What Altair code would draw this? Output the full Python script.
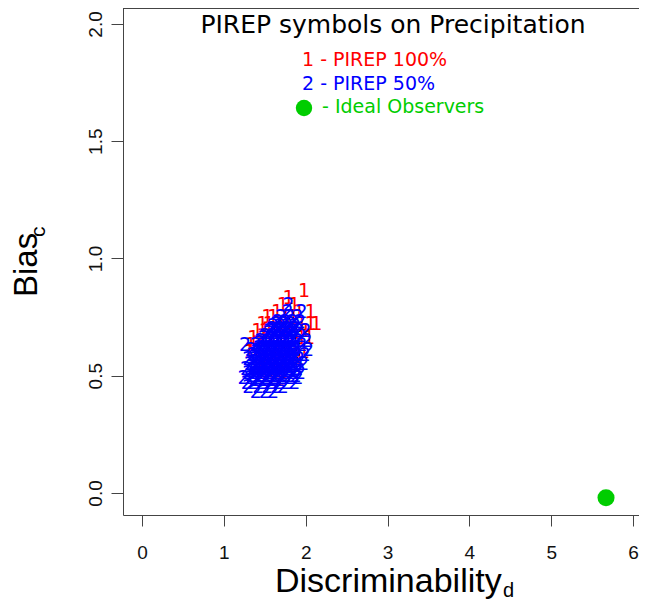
import altair as alt
import pandas as pd

# ---- data ----
# PIREP 100% (symbol "1", red)
red_x = [1.98,
         1.79,
         1.72, 1.86,
         1.65, 1.92, 2.06,
         1.53, 1.60, 1.75, 1.85,
         1.47, 1.55, 1.70, 1.80, 1.95, 2.06, 2.13,
         1.41, 1.50, 1.62, 1.75, 1.88, 2.00,
         1.36, 1.48, 1.58, 1.70, 1.82, 1.95, 2.04,
         1.33, 1.45, 1.55, 1.66, 1.78, 1.90,
         1.31, 1.42, 1.52, 1.63, 1.74, 1.86, 1.98,
         1.40, 1.50, 1.60, 1.70, 1.80, 1.92,
         1.45, 1.55, 1.65, 1.75, 1.87,
         1.50, 1.62, 1.74,
         1.58, 1.68]
red_y = [0.86,
         0.83,
         0.80, 0.80,
         0.77, 0.77, 0.77,
         0.75, 0.75, 0.75, 0.75,
         0.72, 0.72, 0.72, 0.72, 0.72, 0.72, 0.72,
         0.69, 0.69, 0.69, 0.69, 0.69, 0.69,
         0.66, 0.66, 0.66, 0.66, 0.66, 0.66, 0.66,
         0.63, 0.63, 0.63, 0.63, 0.63, 0.63,
         0.60, 0.60, 0.60, 0.60, 0.60, 0.60, 0.60,
         0.57, 0.57, 0.57, 0.57, 0.57, 0.57,
         0.54, 0.54, 0.54, 0.54, 0.54,
         0.51, 0.51, 0.51,
         0.48, 0.48]

# PIREP 50% (symbol "2", blue)
blue_x = [1.39, 1.50, 1.60,
          1.30, 1.42, 1.53, 1.64, 1.72,
          1.28, 1.36, 1.46, 1.56, 1.66, 1.76, 1.86,
          1.24, 1.33, 1.43, 1.52, 1.61, 1.70, 1.80, 1.90,
          1.30, 1.40, 1.49, 1.58, 1.67, 1.76, 1.85, 1.93,
          1.27, 1.36, 1.45, 1.54, 1.63, 1.72, 1.81, 1.90,
          1.32, 1.41, 1.50, 1.59, 1.68, 1.77, 1.86, 1.97,
          1.30, 1.38, 1.47, 1.56, 1.65, 1.74, 1.83, 1.92,
          1.35, 1.44, 1.53, 1.62, 1.71, 1.80, 1.89, 1.99,
          1.33, 1.42, 1.51, 1.60, 1.69, 1.78, 1.87, 2.03,
          1.26, 1.39, 1.48, 1.57, 1.66, 1.75, 1.84, 1.95,
          1.45, 1.54, 1.63, 1.72, 1.81, 1.90, 2.01,
          1.50, 1.59, 1.68, 1.77, 1.86, 1.94,
          1.56, 1.65, 1.74, 1.83, 1.91, 2.00,
          1.60, 1.69, 1.78, 1.87,
          1.66, 1.75, 1.84, 1.93,
          1.70, 1.80, 1.90,
          1.78, 1.95,
          1.79,
          1.38, 1.48, 1.58, 1.68,
          1.35, 1.45, 1.55, 1.65, 1.75, 1.85,
          1.37, 1.46, 1.55, 1.64, 1.73, 1.82,
          1.40, 1.49, 1.58, 1.67, 1.76, 1.85,
          1.44, 1.53, 1.62, 1.71, 1.80,
          1.55, 1.64, 1.73, 1.82,
          1.64, 1.72, 1.81,
          1.34, 1.43, 1.52, 1.61, 1.70, 1.79, 1.88,
          1.36, 1.45, 1.54, 1.63, 1.72, 1.81, 1.90,
          1.39, 1.48, 1.57, 1.66, 1.75, 1.84,
          1.43, 1.52, 1.61, 1.70, 1.79, 1.88,
          1.49, 1.58, 1.67, 1.76, 1.85,
          1.59, 1.68, 1.77, 1.86,
          1.41, 1.50, 1.59, 1.68, 1.77,
          1.46, 1.55, 1.64, 1.73, 1.82,
          1.51, 1.60, 1.69, 1.78, 1.87,
          1.57, 1.66, 1.75, 1.84,
          1.62, 1.71, 1.80]
blue_y = [0.43, 0.43, 0.43,
          0.45, 0.45, 0.45, 0.45, 0.45,
          0.47, 0.47, 0.47, 0.47, 0.47, 0.47, 0.47,
          0.49, 0.49, 0.49, 0.49, 0.49, 0.49, 0.49, 0.49,
          0.51, 0.51, 0.51, 0.51, 0.51, 0.51, 0.51, 0.51,
          0.53, 0.53, 0.53, 0.53, 0.53, 0.53, 0.53, 0.53,
          0.55, 0.55, 0.55, 0.55, 0.55, 0.55, 0.55, 0.55,
          0.57, 0.57, 0.57, 0.57, 0.57, 0.57, 0.57, 0.57,
          0.59, 0.59, 0.59, 0.59, 0.59, 0.59, 0.59, 0.59,
          0.61, 0.61, 0.61, 0.61, 0.61, 0.61, 0.61, 0.61,
          0.63, 0.63, 0.63, 0.63, 0.63, 0.63, 0.63, 0.63,
          0.65, 0.65, 0.65, 0.65, 0.65, 0.65, 0.65,
          0.67, 0.67, 0.67, 0.67, 0.67, 0.67,
          0.69, 0.69, 0.69, 0.69, 0.69, 0.69,
          0.71, 0.71, 0.71, 0.71,
          0.73, 0.73, 0.73, 0.73,
          0.75, 0.75, 0.75,
          0.77, 0.77,
          0.80,
          0.48, 0.48, 0.48, 0.48,
          0.52, 0.52, 0.52, 0.52, 0.52, 0.52,
          0.56, 0.56, 0.56, 0.56, 0.56, 0.56,
          0.60, 0.60, 0.60, 0.60, 0.60, 0.60,
          0.64, 0.64, 0.64, 0.64, 0.64,
          0.68, 0.68, 0.68, 0.68,
          0.72, 0.72, 0.72,
          0.50, 0.50, 0.50, 0.50, 0.50, 0.50, 0.50,
          0.54, 0.54, 0.54, 0.54, 0.54, 0.54, 0.54,
          0.58, 0.58, 0.58, 0.58, 0.58, 0.58,
          0.62, 0.62, 0.62, 0.62, 0.62, 0.62,
          0.66, 0.66, 0.66, 0.66, 0.66,
          0.70, 0.70, 0.70, 0.70,
          0.535, 0.535, 0.535, 0.535, 0.535,
          0.575, 0.575, 0.575, 0.575, 0.575,
          0.615, 0.615, 0.615, 0.615, 0.615,
          0.655, 0.655, 0.655, 0.655,
          0.695, 0.695, 0.695]

# Ideal observers (green dot)
ideal_x = [5.67]
ideal_y = [-0.02]

x_ticks = [0, 1, 2, 3, 4, 5, 6]
y_ticks = [0.0, 0.5, 1.0, 1.5, 2.0]

title_text = "PIREP symbols on Precipitation"
legend_labels = ["1 - PIREP 100%", "2 - PIREP 50%", "- Ideal Observers"]
x_title = "Discriminability"
x_sub = "d"
y_title = "Bias"
y_sub = "c"

RED = "#FF0000"
BLUE = "#0000FF"
GREEN = "#00CD00"

W, H = 516, 507

red_df = pd.DataFrame({"d": red_x, "c": red_y, "lab": ["1"] * len(red_x)})
blue_df = pd.DataFrame({"d": blue_x, "c": blue_y, "lab": ["2"] * len(blue_x)})
ideal_df = pd.DataFrame({"d": ideal_x, "c": ideal_y})

xscale = alt.Scale(domain=[-0.232, 6.073], nice=False, zero=False)
yscale = alt.Scale(domain=[-0.094, 2.068], nice=False, zero=False)

xaxis = alt.Axis(values=x_ticks, format="d", title=None, grid=False,
                 labelFont="Liberation Sans", labelFontSize=19, labelColor="#111",
                 tickSize=11, tickColor="#444", domainColor="#444", labelPadding=17)
yaxis = alt.Axis(values=y_ticks, format=".1f", title=None, grid=False,
                 labelFont="Liberation Sans", labelFontSize=19, labelColor="#111",
                 labelAngle=270, labelAlign="center", labelBaseline="bottom",
                 tickSize=12, tickColor="#444", domainColor="#444", labelPadding=6)

red_layer = alt.Chart(red_df).mark_text(font="DejaVu Sans", fontSize=19, color=RED).encode(
    x=alt.X("d:Q", scale=xscale, axis=xaxis),
    y=alt.Y("c:Q", scale=yscale, axis=yaxis),
    text="lab:N",
)
blue_layer = alt.Chart(blue_df).mark_text(font="DejaVu Sans", fontSize=19, color=BLUE).encode(
    x=alt.X("d:Q", scale=xscale),
    y=alt.Y("c:Q", scale=yscale),
    text="lab:N",
)
ideal_layer = alt.Chart(ideal_df).mark_point(filled=True, shape="circle", size=290, color=GREEN, opacity=1).encode(
    x=alt.X("d:Q", scale=xscale),
    y=alt.Y("c:Q", scale=yscale),
)

top_border = alt.Chart(pd.DataFrame({"k": [0]})).mark_rect(color="#444").encode(
    x=alt.value(0), x2=alt.value(W), y=alt.value(0), y2=alt.value(1)
)

title_layer = alt.Chart(pd.DataFrame({"t": [title_text]})).mark_text(
    font="DejaVu Sans", fontSize=25, color="#000", align="center", baseline="alphabetic"
).encode(x=alt.value(270), y=alt.value(25), text="t:N")

leg1 = alt.Chart(pd.DataFrame({"t": [legend_labels[0]]})).mark_text(
    font="DejaVu Sans", fontSize=19, color=RED, align="left", baseline="alphabetic"
).encode(x=alt.value(179), y=alt.value(58), text="t:N")
leg2 = alt.Chart(pd.DataFrame({"t": [legend_labels[1]]})).mark_text(
    font="DejaVu Sans", fontSize=19, color=BLUE, align="left", baseline="alphabetic"
).encode(x=alt.value(179), y=alt.value(82), text="t:N")
leg3 = alt.Chart(pd.DataFrame({"t": [legend_labels[2]]})).mark_text(
    font="DejaVu Sans", fontSize=19, color=GREEN, align="left", baseline="alphabetic"
).encode(x=alt.value(199), y=alt.value(105), text="t:N")
leg_dot = alt.Chart(pd.DataFrame({"k": [0]})).mark_point(
    filled=True, shape="circle", size=270, color=GREEN, opacity=1
).encode(x=alt.value(181), y=alt.value(100))

xt = alt.Chart(pd.DataFrame({"t": [x_title]})).mark_text(
    font="Liberation Sans", fontSize=34, color="#000", align="left", baseline="alphabetic"
).encode(x=alt.value(152), y=alt.value(584), text="t:N")
xs = alt.Chart(pd.DataFrame({"t": [x_sub]})).mark_text(
    font="Liberation Sans", fontSize=20, color="#000", align="left", baseline="alphabetic"
).encode(x=alt.value(380), y=alt.value(589), text="t:N")
yt = alt.Chart(pd.DataFrame({"t": [y_title]})).mark_text(
    font="Liberation Sans", fontSize=33, color="#000", align="left", baseline="alphabetic", angle=270
).encode(x=alt.value(-86), y=alt.value(289), text="t:N")
ys = alt.Chart(pd.DataFrame({"t": [y_sub]})).mark_text(
    font="Liberation Sans", fontSize=21, color="#000", align="left", baseline="alphabetic", angle=270
).encode(x=alt.value(-78), y=alt.value(229), text="t:N")

chart = alt.layer(
    red_layer, blue_layer, ideal_layer, top_border, title_layer,
    leg1, leg2, leg3, leg_dot, xt, xs, yt, ys
).properties(
    width=W, height=H,
    autosize=alt.AutoSizeParams(type="none"),
    padding={"left": 115, "top": 0, "right": 0, "bottom": 85},
).configure_view(stroke="transparent")

chart.save("out.html", embed_options={"renderer": "svg", "actions": False})
